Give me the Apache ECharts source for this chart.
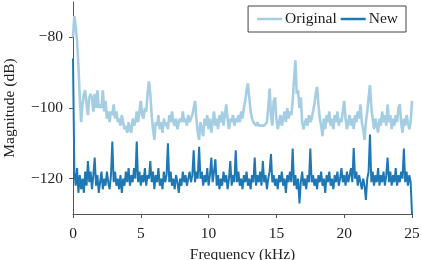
<!DOCTYPE html>
<html>
<head>
<meta charset="utf-8">
<script src="https://cdn.jsdelivr.net/npm/echarts@6/dist/echarts.min.js"></script>
<style>
html,body{margin:0;padding:0;background:#fff;}
#chart{width:421px;height:260px;}
</style>
</head>
<body>
<div id="chart"></div>
<script>
// Frequency grid step (kHz) for both traces
const freqStepKHz = 0.1;
const xTicks = [0, 5, 10, 15, 20, 25];
const yTicks = [-120, -100, -80];
const seriesNames = ['Original', 'New'];

const originalDb = [
-80,-74,-77,-81,-88,-97,-104,-99,-96,-95,
-99,-102,-97,-96,-97,-101,-96,-100,-95,-100,
-99,-100,-95,-101,-98,-103,-101,-104,-101,-102,
-99,-103,-101,-104,-103,-105,-102,-104,-106,-105,
-107,-104,-106,-107,-103,-105,-104,-101,-104,-101,
-98,-102,-103,-100,-101,-96,-92.5,-96,-102,-106,
-109,-104,-105,-102,-106,-104,-107,-103,-105,-104,
-106,-102,-104,-101,-104,-105,-103,-106,-104,-103,
-104,-101,-104,-103,-105,-102,-104,-104,-102,-100,
-98,-103,-107,-109,-104,-106,-108,-103,-105,-102,
-106,-103,-107,-104,-101,-105,-103,-106,-102,-104,
-101,-105,-102,-99,-103,-106,-103,-104,-102,-105,
-103,-104,-102,-104,-101,-103,-100,-98,-95,-93,
-97,-101,-103,-104,-104.5,-105,-104,-105,-104.5,-105,
-104.5,-105,-105,-104,-100,-94.5,-102,-105,-98,-97,
-103,-106,-104,-102,-105,-103,-101,-104,-100,-103,
-101,-102,-98,-92,-86.5,-96,-95,-100,-97,-104,
-106,-104,-103,-105,-102,-104,-103,-101,-99,-96,
-94,-99,-103,-105,-108,-103,-106,-102,-104,-101,
-105,-103,-106,-102,-104,-101,-105,-103,-104,-101,
-98,-103,-106,-104,-102,-105,-103,-106,-102,-104,
-101,-103,-99,-104,-106,-109,-104,-101,-97,-93.5,
-100,-103,-106,-103,-105,-107,-103,-105,-101,-104,
-102,-105,-99,-104,-102,-106,-103,-105,-102,-104,
-100,-99,-104,-107,-103,-105,-102,-104,-106,-104,
-98
];

const newDb = [
-86,-118,-122,-117,-124,-119,-123,-120,-124,-118,
-122,-115,-121,-118,-123,-119,-114,-122,-119,-124,
-121,-118,-123,-120,-122,-118,-121,-123,-119,-109.5,
-121,-118,-122,-120,-123,-119,-124,-120,-122,-118,
-121,-117,-122,-119,-121,-117,-120,-109.5,-121,-118,
-122,-119,-121,-117,-122,-119,-120,-115,-121,-118,
-123,-119,-121,-117,-122,-120,-123,-118,-121,-119,
-110,-121,-118,-122,-120,-123,-119,-121,-124,-120,
-122,-118,-121,-119,-122,-120,-118,-121,-119,-112,
-121,-118,-120,-111,-120,-118,-122,-119,-121,-117,
-122,-119,-114,-121,-118,-114.5,-122,-119,-123,-120,
-122,-118,-121,-119,-123,-120,-115,-122,-119,-121,
-112,-121,-118,-122,-120,-123,-119,-121,-118,-122,
-120,-123,-119,-121,-114,-122,-119,-121,-118,-122,
-115,-121,-119,-123,-120,-118,-113,-121,-119,-122,
-120,-123,-119,-121,-118,-122,-120,-124,-119,-121,
-118,-121,-111.5,-122,-119,-123,-120,-127,-121,-118,
-122,-120,-123,-119,-121,-111.5,-121,-119,-122,-120,
-123,-119,-121,-118,-122,-120,-124,-119,-121,-118,
-122,-120,-123,-119,-121,-118,-122,-120,-117,-121,
-119,-122,-118,-121,-119,-117,-121,-111.3,-120,-118,
-122,-119,-121,-123,-120,-122,-126,-120,-118,-107.5,
-121,-118,-122,-119,-121,-117,-122,-119,-121,-118,
-122,-119,-114,-121,-118,-122,-119,-121,-117,-122,
-119,-121,-118,-120,-111.5,-121,-118,-122,-119,-121,
-130
];

const toPairs = arr => arr.map((v, i) => [+(i * freqStepKHz).toFixed(1), v]);
const fmtMinus = v => (v < 0 ? '\u2212' + Math.abs(v) : String(v));

const FONT = 'Liberation Serif';
const FS = 15.5;
const chart = echarts.init(document.getElementById('chart'), null, {renderer: 'canvas'});
chart.setOption({
  animation: false,
  backgroundColor: '#fff',
  textStyle: {fontFamily: FONT},
  grid: {left: 73, right: 9, top: 2, bottom: 46, containLabel: false, outerBoundsMode: 'none'},
  legend: {
    right: 15, top: 6,
    data: [
      {name: seriesNames[0], icon: 'rect'},
      {name: seriesNames[1], icon: 'rect'}
    ],
    itemWidth: 25, itemHeight: 2.5, itemGap: 4,
    borderColor: '#444', borderWidth: 1, borderRadius: 0,
    backgroundColor: '#fff',
    padding: [5, 8, 5, 9],
    textStyle: {fontFamily: FONT, fontSize: FS, color: '#222', padding: [0, 0, 0, -2]}
  },
  xAxis: {
    type: 'value', min: 0, max: 25, interval: 5,
    name: 'Frequency (kHz)', nameLocation: 'middle', nameGap: 32,
    nameTextStyle: {fontFamily: FONT, fontSize: FS, color: '#222'},
    axisLine: {lineStyle: {color: '#555', width: 1}},
    axisTick: {show: true, length: 4, lineStyle: {color: '#555'}, customValues: xTicks},
    axisLabel: {fontFamily: FONT, fontSize: FS, color: '#222', margin: 12, customValues: xTicks},
    splitLine: {show: false}
  },
  yAxis: {
    type: 'value', min: -130, max: -70,
    name: 'Magnitude (dB)', nameLocation: 'middle', nameGap: 55, nameRotate: 90,
    nameTextStyle: {fontFamily: FONT, fontSize: FS, color: '#222'},
    axisLine: {show: true, lineStyle: {color: '#555', width: 1}},
    axisTick: {show: true, length: 4, lineStyle: {color: '#555'}, customValues: yTicks},
    axisLabel: {fontFamily: FONT, fontSize: FS, color: '#222', margin: 10, customValues: yTicks, formatter: fmtMinus},
    splitLine: {show: false}
  },
  series: [
    {name: seriesNames[0], type: 'line', data: toPairs(originalDb), showSymbol: false, symbol: 'none',
     lineStyle: {color: '#a6cee3', width: 2.6}, itemStyle: {color: '#a6cee3'}, z: 2},
    {name: seriesNames[1], type: 'line', data: toPairs(newDb), showSymbol: false, symbol: 'none',
     lineStyle: {color: '#1f78b4', width: 2.0}, itemStyle: {color: '#1f78b4'}, z: 3}
  ]
});
</script>
</body>
</html>
